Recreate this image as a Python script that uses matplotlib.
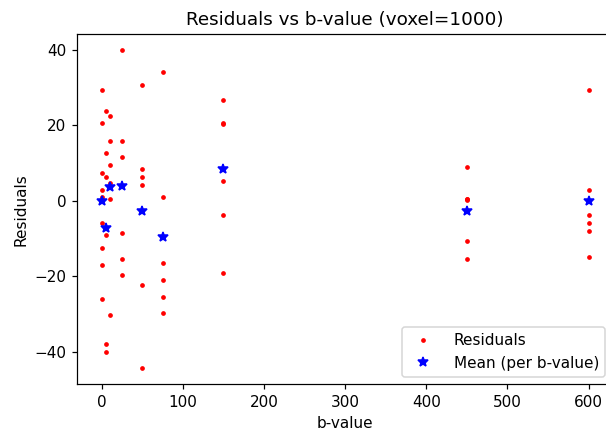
import numpy as np
import matplotlib
matplotlib.use("Agg")
import matplotlib.pyplot as plt

# residuals grouped by b-value
bvals = [0, 5, 10, 25, 50, 75, 150, 450, 600]
res_b0   = [29.4, 20.5, 7.3, 3.0, 0.9, -5.9, -12.4, -17.0, -25.9]
res_b5   = [23.9, 12.8, 6.4, -9.0, -37.9, -40.1]
res_b10  = [22.6, 15.8, 9.4, 4.7, 0.4, -30.3]
res_b25  = [40.0, 15.8, 11.5, -8.5, -15.4, -19.7]
res_b50  = [30.7, 8.5, 6.4, 4.3, -22.2, -44.4]
res_b75  = [34.1, 0.9, -16.6, -20.9, -25.6, -29.8]
res_b150 = [26.8, 20.7, 20.4, 5.2, -3.8, -19.1]
res_b450 = [9.0, 0.6, 0.4, 0.3, -10.6, -15.3]
res_b600 = [29.4, 3.0, -3.8, -5.9, -8.1, -14.9]

groups = [res_b0, res_b5, res_b10, res_b25, res_b50, res_b75,
          res_b150, res_b450, res_b600]

x_all = np.concatenate([[b] * len(g) for b, g in zip(bvals, groups)])
y_all = np.concatenate(groups)
means = [np.mean(g) for g in groups]

dpi = 110
fig = plt.figure(figsize=(606 / dpi, 433 / dpi), dpi=dpi)
ax = fig.add_axes([77.3 / 606, (433 - 384.3) / 433,
                   (613 - 77.3) / 606, (384.3 - 34) / 433])

ax.plot(x_all, y_all, "r.", markersize=4.2, label="Residuals")
ax.plot(bvals, means, "b*", markersize=6.5, label="Mean (per b-value)")

ax.set_title("Residuals vs b-value (voxel=1000)", fontsize=12)
ax.set_xlabel("b-value")
ax.set_ylabel("Residuals")
ax.legend(loc="lower right", handletextpad=1.0)

fig.savefig("out.png", dpi=dpi)
